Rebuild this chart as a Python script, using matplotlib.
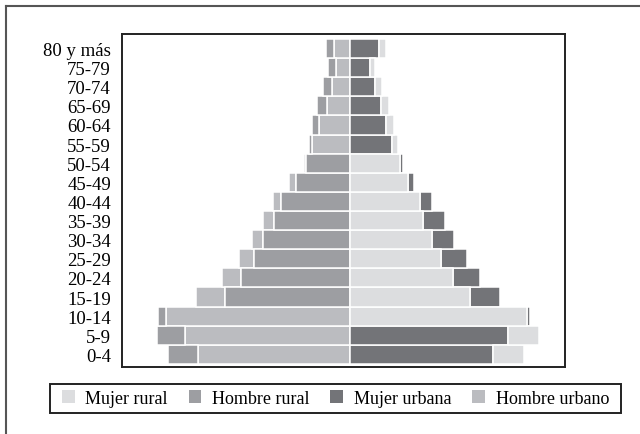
import numpy as np
import matplotlib.pyplot as plt
from matplotlib.patches import Patch, Rectangle
from matplotlib.lines import Line2D

# Grupos de edad (de abajo hacia arriba)
edades = ["0-4", "5-9", "10-14", "15-19", "20-24", "25-29", "30-34", "35-39",
          "40-44", "45-49", "50-54", "55-59", "60-64", "65-69", "70-74",
          "75-79", "80 y más"]

# Valores
hombre_urbano = [15.2, 16.5, 18.4, 2.9, 1.9, 1.5, 1.1, 1.1, 0.8, 0.7, 0.2,
                 3.8, 3.1, 2.3, 1.8, 1.4, 1.6]
hombre_rural = [3.0, 2.8, 0.8, 12.5, 10.9, 9.6, 8.7, 7.6, 6.9, 5.4, 4.4,
                0.25, 0.7, 1.0, 0.85, 0.8, 0.75]
mujer_urbana = [14.3, 15.8, 0.35, 3.0, 2.7, 2.6, 2.2, 2.25, 1.2, 0.6, 0.3,
                4.2, 3.6, 3.1, 2.5, 2.0, 2.9]
mujer_rural = [3.15, 3.1, 17.7, 12.0, 10.3, 9.1, 8.2, 7.3, 7.0, 5.85, 5.0,
               0.6, 0.85, 0.8, 0.75, 0.55, 0.7]

# Que segmento va pegado al centro en cada fila (True = urbano adentro)
urbano_dentro_h = [True, True, True, False, False, False, False, False, False,
                   False, False, True, True, True, True, True, True]
urbano_dentro_m = [True, True, False, False, False, False, False, False, False,
                   False, False, True, True, True, True, True, True]

# Colores
c_mr = "#dcdddf"
c_hr = "#9d9ea2"
c_mu = "#737478"
c_hu = "#bbbcc0"

plt.rcParams['font.family'] = ['Liberation Serif', 'DejaVu Serif']

fig = plt.figure(figsize=(6.4, 4.35), dpi=100)
ax = fig.add_axes([122/640, 1-368/435, (565-122)/640, (368-35)/435])

y = np.arange(len(edades))
hu = np.array(hombre_urbano)
hr = np.array(hombre_rural)
mu = np.array(mujer_urbana)
mr = np.array(mujer_rural)
dh = np.array(urbano_dentro_h)
dm = np.array(urbano_dentro_m)

kw = dict(height=1.0, edgecolor="white", linewidth=1.1)

# Hombres (lado izquierdo)
hu_left = np.where(dh, -hu, -hr - hu)
hr_left = np.where(dh, -hu - hr, -hr)
ax.barh(y, hu, left=hu_left, color=c_hu, **kw)
ax.barh(y, hr, left=hr_left, color=c_hr, **kw)

# Mujeres (lado derecho)
mu_left = np.where(dm, 0, mr)
mr_left = np.where(dm, mu, 0)
ax.barh(y, mu, left=mu_left, color=c_mu, **kw)
ax.barh(y, mr, left=mr_left, color=c_mr, **kw)

ax.set_xlim(-22.77, 21.53)
ax.set_ylim(-0.66, 16.76)
ax.set_xticks([])
ax.set_yticks(y)
ax.set_yticklabels(edades, fontsize=13.5)
ax.tick_params(axis="y", length=0, pad=8)
for s in ax.spines.values():
    s.set_linewidth(1.4)
    s.set_color("#222222")

# Leyenda (el recuadro se dibuja aparte)
handles = [Patch(facecolor=c_mr, edgecolor="none", label="Mujer rural"),
           Patch(facecolor=c_hr, edgecolor="none", label="Hombre rural"),
           Patch(facecolor=c_mu, edgecolor="none", label="Mujer urbana"),
           Patch(facecolor=c_hu, edgecolor="none", label="Hombre urbano")]
fig.legend(handles=handles, loc="center", ncol=4,
           bbox_to_anchor=((50+621)/2/640, 1-(385+414)/2/435),
           fontsize=13, frameon=False,
           handlelength=0.7, handleheight=0.7, handletextpad=0.6,
           columnspacing=1.15, borderpad=0.35)
fig.add_artist(Rectangle((50/640, 1-414/435), (621-50)/640, 29/435,
                         transform=fig.transFigure, fill=False,
                         edgecolor="#222222", linewidth=1.4))

# Marco exterior (solo arriba e izquierda visibles)
fig.add_artist(Line2D([5.5/640, 1], [1-6.5/435, 1-6.5/435], color="#555555", lw=1.5))
fig.add_artist(Line2D([5.5/640, 5.5/640], [0, 1-6.5/435], color="#555555", lw=1.5))

fig.savefig("out.png", dpi=100)
